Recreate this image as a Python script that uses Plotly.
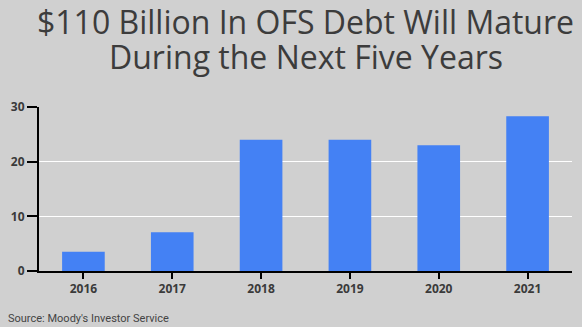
import plotly.graph_objects as go

years = ["2016", "2017", "2018", "2019", "2020", "2021"]
debt = [3.5, 7.1, 24.0, 24.0, 23.0, 28.3]
y_ticks = [0, 10, 20, 30]

title_lines = ["$110 Billion In OFS Debt Will Mature", "During the Next Five Years"]
source_text = "Source: Moody's Investor Service"

fig = go.Figure(go.Bar(x=years, y=debt, marker=dict(color="#4481f4", line=dict(width=0))))

PLOT_TOP, PLOT_BOTTOM = 107, 271
def py(pix):
    return (PLOT_BOTTOM - pix) / (PLOT_BOTTOM - PLOT_TOP)

title_font = dict(family="Open Sans", size=32, color="#3c3c3c")
annotations = [
    dict(text=title_lines[0], xref="paper", yref="paper", x=0.5, y=py(21), xanchor="center",
         yanchor="middle", showarrow=False, font=title_font),
    dict(text=title_lines[1], xref="paper", yref="paper", x=0.5, y=py(57), xanchor="center",
         yanchor="middle", showarrow=False, font=title_font),
    dict(text=source_text, xref="paper", yref="paper", x=-0.061, y=py(318),
         xanchor="left", yanchor="middle", showarrow=False,
         font=dict(family="Roboto", size=11, color="#444444")),
]

fig.update_layout(
    width=582, height=327,
    margin=dict(l=39, r=10, t=107, b=56),
    paper_bgcolor="#d0d0d0", plot_bgcolor="#d0d0d0",
    bargap=0.52,
    showlegend=False,
    annotations=annotations,
)
fig.update_xaxes(showline=True, linecolor="black", linewidth=2, ticks="outside", ticklen=6,
                 tickcolor="black", tickwidth=1.5, showgrid=False,
                 tickfont=dict(family="Open Sans", size=12, color="#3a3a3a", weight="bold"))
fig.update_yaxes(range=[0, 30], tickvals=y_ticks, showline=True, linecolor="black", linewidth=2,
                 ticks="outside", ticklen=10, tickcolor="black", tickwidth=1.5,
                 showgrid=True, gridcolor="white", gridwidth=1, zeroline=False,
                 tickfont=dict(family="Open Sans", size=12, color="#3a3a3a", weight="bold"))

fig.write_html("out.html")
